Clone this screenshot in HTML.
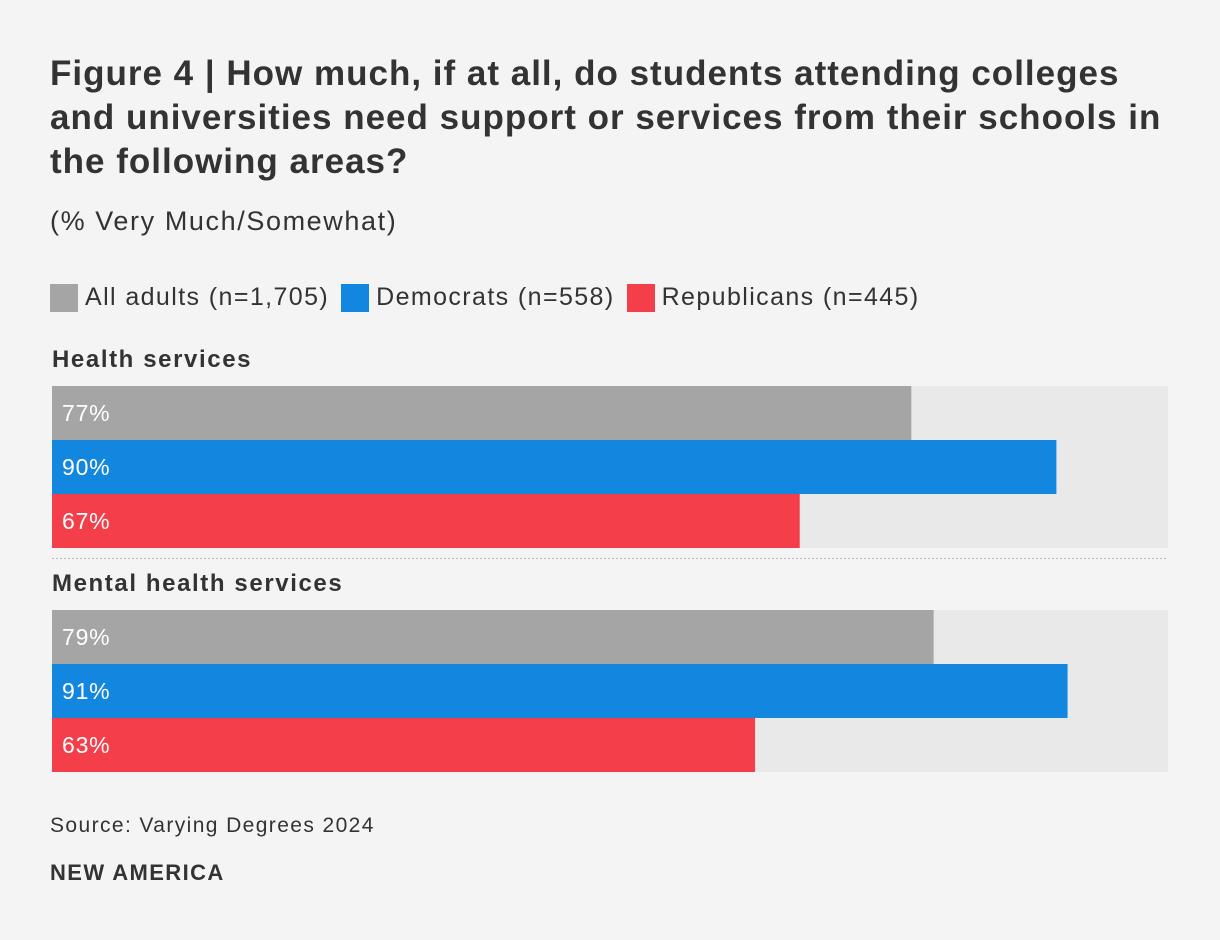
<!DOCTYPE html>
<html><head><meta charset="utf-8"><style>
body{margin:0;background:#f4f4f4;font-family:"Liberation Sans",sans-serif;color:#333;}
#wrap{position:relative;width:1220px;height:940px;}
.t{position:absolute;left:50px;white-space:nowrap;}
</style></head><body>
<div id="wrap">
<div class="t" style="top:52px;font-size:35px;letter-spacing:1px;font-weight:bold;line-height:44px;color:#333">Figure 4 | How much, if at all, do students attending colleges<br>and universities need support or services from their schools in<br>the following areas?</div>
<div class="t" style="top:206px;font-size:27px;letter-spacing:1.6px;color:#333">(% Very Much/Somewhat)</div>
<div class="t" id="legend" style="top:283px;font-size:25px;letter-spacing:1.4px;display:flex;align-items:center;"></div>
<svg id="svg" width="1220" height="940" style="position:absolute;left:0;top:0"></svg>
<div class="t" style="top:814px;font-size:21px;letter-spacing:1.4px">Source: Varying Degrees 2024</div>
<div class="t" style="top:860px;font-size:22px;letter-spacing:1.4px;font-weight:bold">NEW AMERICA</div>
</div>
<script>
const categories=["Health services","Mental health services"];
const seriesNames=["All adults (n=1,705)","Democrats (n=558)","Republicans (n=445)"];
const allAdults=[77,79];
const democrats=[90,91];
const republicans=[67,63];
const colors=["#a5a5a5","#1386e0","#f43f4a"];
const series=[allAdults,democrats,republicans];
const ns="http://www.w3.org/2000/svg";
const svg=document.getElementById("svg");
const x0=52,plotW=1116,barH=54;
const xs=v=>plotW*v/100;
const groupTop=[386,610];
const leg=document.getElementById("legend");
seriesNames.forEach((n,i)=>{
 const e=document.createElement("span");
 
 
 e.style.cssText="display:flex;align-items:center;margin-right:12px";
 e.innerHTML='<span style="display:inline-block;width:28px;height:28px;background:'+colors[i]+';margin-right:7px"></span>'+n;
 leg.appendChild(e);
});
function el(t,a){const e=document.createElementNS(ns,t);for(const k in a)e.setAttribute(k,a[k]);svg.appendChild(e);return e;}
categories.forEach((c,g)=>{
 const top=groupTop[g];
 const lab=el("text",{x:52,y:top-19,"font-size":24,"letter-spacing":1.6,"font-weight":"bold",fill:"#333"});
 lab.textContent=c;
 
 
 const tr=el("rect",{x:x0,y:top,width:plotW,height:barH*3,fill:"#e9e9e9"});
 
 
 series.forEach((s,i)=>{
  const r=el("rect",{x:x0,y:top+i*barH,width:xs(s[g]),height:barH,fill:colors[i]});
  
  
  const t=el("text",{x:x0+10,y:top+i*barH+35,"font-size":23,"letter-spacing":0.8,fill:"#fff"});
  t.textContent=s[g]+"%";
  
  
 });
 if(g<categories.length-1){
  const l=el("line",{x1:x0,x2:x0+plotW,y1:top+barH*3+10.5,y2:top+barH*3+10.5,stroke:"#bbb","stroke-dasharray":"2,2"});
  
  
 }
});
</script>
</body></html>
